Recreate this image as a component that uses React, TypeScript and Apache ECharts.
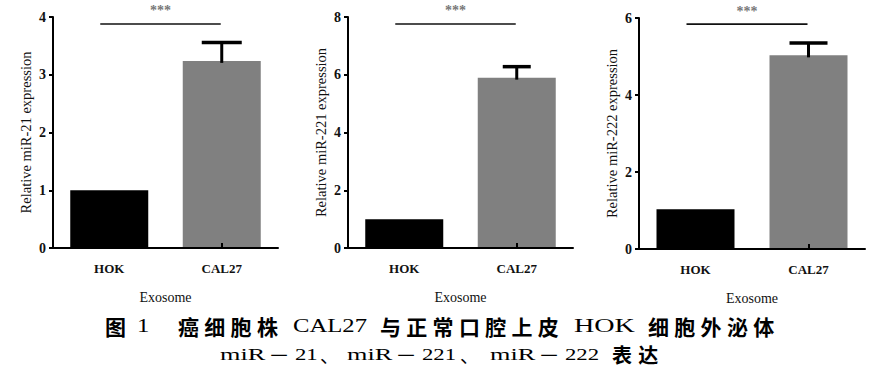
import React, { useEffect, useRef } from 'react';
import * as echarts from 'echarts';

// ---------- data ----------
const categories = ['HOK', 'CAL27'];
const mir21Mean = [1.0, 3.24];
const mir21Err = [0, 0.32];
const mir221Mean = [1.0, 5.9];
const mir221Err = [0, 0.38];
const mir222Mean = [1.03, 5.03];
const mir222Err = [0, 0.32];
const yMax = [4, 8, 6];
const yInterval = [1, 2, 2];
const yNames = ['Relative miR-21 expression', 'Relative miR-221 expression', 'Relative miR-222 expression'];
const sigLevel = [3.88, 7.76, 5.84];
const sigLabel = '***';
const xName = 'Exosome';

// caption texts
const cap1 = ['图', '1', '癌细胞株', 'CAL27', '与正常口腔上皮', 'HOK', '细胞外泌体'];
const cap2 = ['miR', '－', '21', '、', 'miR', '－', '221', '、', 'miR', '－', '222', '表达'];

// ---------- layout / style ----------
const SERIF = 'Liberation Serif, Times New Roman, serif';
const SANS = 'Noto Sans CJK SC, sans-serif';
const barColors = ['#000000', '#808080'];
const grids = [
  { left: 53, top: 17, width: 225, height: 231, cap: 20 },
  { left: 348, top: 17, width: 225, height: 231, cap: 14 },
  { left: 639, top: 18, width: 226, height: 231, cap: 19 },
];
// per caption segment: [x, kind, scaleX]; kind: 's' sans bold CJK, 'l' latin serif, 'd' dash, 'p' punctuation
const cap1Layout: [number, string, number][] = [
  [105, 's', 1], [137, 'l', 1.3], [178, 's', 1], [293, 'l', 1.3], [380, 's', 1], [574, 'l', 1.48], [648, 's', 1],
];
const cap2Layout: [number, string, number][] = [
  [220, 'l', 1.5], [279, 'd', 1.2], [295, 'l', 1.3], [320, 'p', 1], [347, 'l', 1.5], [406, 'd', 1.2], [422, 'l', 1.3], [460, 'p', 1],
  [490, 'l', 1.5], [549, 'd', 1.2], [565, 'l', 1.3], [612, 's', 1],
];

function captionElements(texts: string[], layout: [number, string, number][], y: number, latinSize: number, cjkSize: number) {
  const out: any[] = [];
  texts.forEach((t, i) => {
    const [x, kind, sx] = layout[i];
    if (kind === 's') {
      Array.from(t).forEach((ch, k) => {
        out.push({
          type: 'text', x: x + k * 26.3, y,
          style: { text: ch, fontFamily: SANS, fontWeight: 'bold', fontSize: cjkSize, fill: '#000', align: 'left', verticalAlign: 'middle' },
        });
      });
    } else if (kind === 'l') {
      out.push({
        type: 'text', x, y, scaleX: sx,
        style: { text: t, fontFamily: SERIF, fontSize: latinSize, fill: '#000', align: 'left', verticalAlign: 'middle' },
      });
    } else if (kind === 'd') {
      out.push({
        type: 'text', x, y, scaleX: sx,
        style: { text: t, fontFamily: SANS, fontWeight: 'normal', fontSize: 18, fill: '#000', align: 'center', verticalAlign: 'middle' },
      });
    } else {
      out.push({
        type: 'text', x, y,
        style: { text: t, fontFamily: SANS, fontWeight: 'normal', fontSize: 19, fill: '#000', align: 'left', verticalAlign: 'middle' },
      });
    }
  });
  return out;
}

export default function App() {
  const ref = useRef<HTMLDivElement>(null);
  useEffect(() => {
    if (!ref.current) return;
    const chart = echarts.init(ref.current, null, { renderer: 'svg' });
    const means = [mir21Mean, mir221Mean, mir222Mean];
    const errs = [mir21Err, mir221Err, mir222Err];

    const series: any[] = [];
    means.forEach((m, i) => {
      series.push({
        type: 'bar', xAxisIndex: i, yAxisIndex: i, barWidth: 78, z: 2,
        data: m.map((v, j) => ({ value: v, itemStyle: { color: barColors[j] } })),
      });
      const capHalf = grids[i].cap;
      series.push({
        type: 'custom', xAxisIndex: i, yAxisIndex: i, z: 6,
        data: m.map((v, j) => [j, v, errs[i][j]]),
        renderItem: (params: any, api: any) => {
          const x = api.value(0), mv = api.value(1), e = api.value(2);
          if (!e) return { type: 'group', children: [] };
          const p0 = api.coord([x, mv]);
          const p1 = api.coord([x, mv + e]);
          return {
            type: 'group', children: [
              { type: 'line', shape: { x1: p0[0], y1: p0[1] + 2, x2: p1[0], y2: p1[1] }, style: { stroke: '#000', lineWidth: 3 } },
              { type: 'line', shape: { x1: p1[0] - capHalf, y1: p1[1], x2: p1[0] + capHalf, y2: p1[1] }, style: { stroke: '#000', lineWidth: 3.5 } },
            ],
          };
        },
      });
      series.push({
        type: 'custom', xAxisIndex: i, yAxisIndex: i, z: 6,
        data: [[0, 1, sigLevel[i]]],
        renderItem: (params: any, api: any) => {
          const lvl = api.value(2);
          const a = api.coord([api.value(0), lvl]);
          const b = api.coord([api.value(1), lvl]);
          const x1 = a[0] - 9, x2 = b[0] - 1;
          return {
            type: 'group', children: [
              { type: 'line', shape: { x1, y1: a[1], x2, y2: a[1] }, style: { stroke: '#111', lineWidth: 1.6 } },
              {
                type: 'text', x: (x1 + x2) / 2, y: a[1] - 13,
                style: { text: sigLabel, fontFamily: SERIF, fontSize: 14, fontWeight: 'bold', fill: '#777', align: 'center', verticalAlign: 'middle' },
              },
            ],
          };
        },
      });
    });

    const option: any = {
      animation: false,
      backgroundColor: '#ffffff',
      textStyle: { fontFamily: SERIF },
      grid: grids.map((g) => ({ left: g.left, top: g.top, width: g.width, height: g.height })),
      xAxis: grids.map((g, i) => ({
        type: 'category', gridIndex: i, data: categories, z: 5,
        name: xName, nameLocation: 'middle', nameGap: 42,
        nameTextStyle: { fontFamily: SERIF, fontSize: 14, color: '#111' },
        axisLine: { lineStyle: { color: '#000', width: 2 } },
        axisTick: { show: true, inside: true, alignWithLabel: true, length: 5, lineStyle: { color: '#000', width: 2 } },
        axisLabel: { fontFamily: SERIF, fontSize: 13, fontWeight: 'bold', color: '#111', margin: 14 },
        splitLine: { show: false },
      })),
      yAxis: grids.map((g, i) => ({
        type: 'value', gridIndex: i, min: 0, max: yMax[i], interval: yInterval[i], z: 5,
        name: yNames[i], nameLocation: 'middle', nameGap: 20, nameRotate: 90,
        nameTextStyle: { fontFamily: SERIF, fontSize: 14.5, color: '#111' },
        axisLine: { show: true, lineStyle: { color: '#000', width: 2 } },
        axisTick: { show: true, inside: false, length: 4, lineStyle: { color: '#000', width: 2 } },
        axisLabel: { fontFamily: SERIF, fontSize: 14, fontWeight: 'bold', color: '#111', margin: 7 },
        splitLine: { show: false },
      })),
      series,
      graphic: [
        ...captionElements(cap1, cap1Layout, 326, 19, 21),
        ...captionElements(cap2, cap2Layout, 354, 17.5, 20),
      ],
    };
    chart.setOption(option);
    return () => chart.dispose();
  }, []);
  return <div ref={ref} style={{ position: 'fixed', left: 0, top: 0, width: 877, height: 369, background: '#fff' }} />;
}
